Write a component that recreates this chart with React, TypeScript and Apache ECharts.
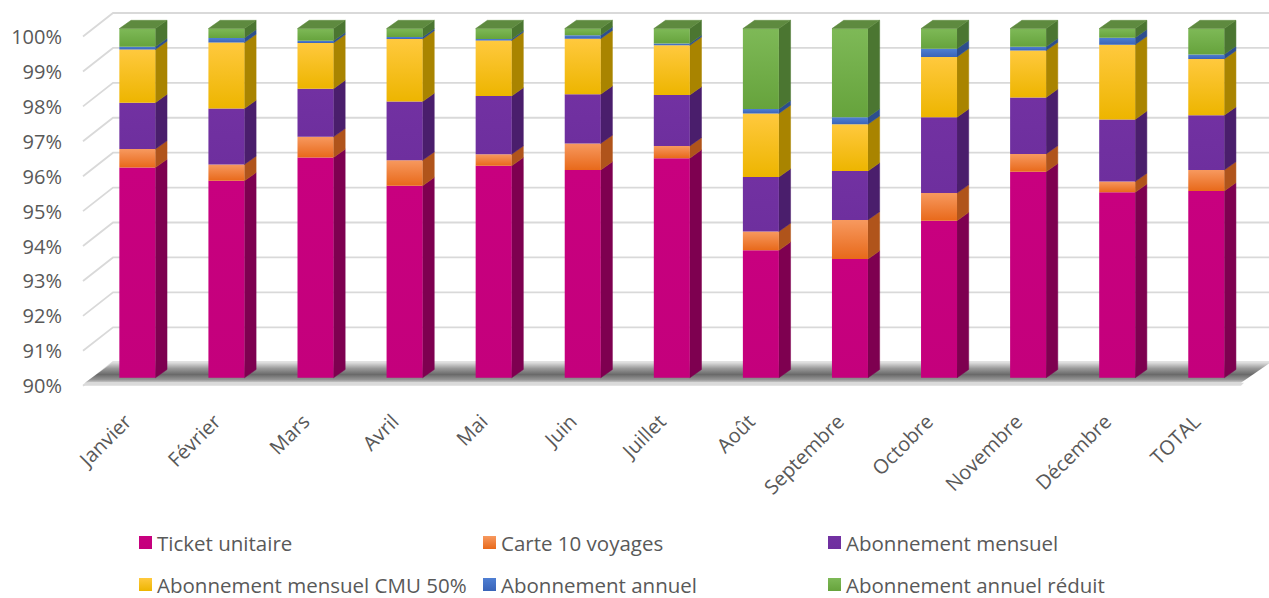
import React, { useEffect, useRef } from "react";
import * as echarts from "echarts";

// ---------- data ----------
const categories = [
  "Janvier", "Février", "Mars", "Avril", "Mai", "Juin", "Juillet",
  "Août", "Septembre", "Octobre", "Novembre", "Décembre", "TOTAL",
];
const seriesNames = [
  "Ticket unitaire",
  "Carte 10 voyages",
  "Abonnement mensuel",
  "Abonnement mensuel CMU 50%",
  "Abonnement annuel",
  "Abonnement annuel réduit",
];
const ticketUnitaire = [96.02, 95.64, 96.31, 95.5, 96.07, 95.95, 96.29, 93.65, 93.4, 94.5, 95.9, 95.31, 95.35];
const carte10Voyages = [0.53, 0.47, 0.59, 0.73, 0.33, 0.76, 0.35, 0.54, 1.12, 0.79, 0.51, 0.31, 0.6];
const abonnementMensuel = [1.33, 1.6, 1.38, 1.68, 1.67, 1.41, 1.46, 1.56, 1.4, 2.17, 1.62, 1.78, 1.57];
const abonnementCMU = [1.52, 1.89, 1.31, 1.79, 1.59, 1.59, 1.42, 1.82, 1.34, 1.73, 1.34, 2.14, 1.61];
const abonnementAnnuel = [0.08, 0.13, 0.06, 0.06, 0.04, 0.1, 0.05, 0.13, 0.2, 0.23, 0.11, 0.2, 0.13];
const abonnementAnnuelReduit = [0.52, 0.27, 0.35, 0.24, 0.3, 0.19, 0.43, 2.3, 2.54, 0.58, 0.52, 0.26, 0.74];
const yTickValues = [90, 91, 92, 93, 94, 95, 96, 97, 98, 99, 100];

const seriesValues = [
  ticketUnitaire,
  carte10Voyages,
  abonnementMensuel,
  abonnementCMU,
  abonnementAnnuel,
  abonnementAnnuelReduit,
];

// ---------- styles ----------
const Y_MIN = 90;
const Y_MAX = 100;
const FONT = "'Open Sans', 'Noto Sans', sans-serif";
const TEXT_COLOR = "#595959";
const WALL_DX = 30;
const WALL_DY = -23.5;
const BAR_DX = 9.8;
const BAR_DY = -7.9;
const DEPTH_X = 11.7;
const DEPTH_Y = -8.3;
const BAR_FRACTION = 0.404;

const faces = [
  { front: ["#C8007F", "#C4007C"], side: "#7E0050", top: "#A0006A" },
  { front: ["#F7995F", "#E8691A"], side: "#B0541B", top: "#D46A28" },
  { front: ["#7231A2", "#6E2F9E"], side: "#4A1E6C", top: "#5E2888" },
  { front: ["#FFC93E", "#EDB500"], side: "#A98400", top: "#C99C10" },
  { front: ["#4F7FD3", "#3A64B8"], side: "#2D4E8E", top: "#3A60A8" },
  { front: ["#7EB957", "#66A33C"], side: "#4B7631", top: "#5E8A3F" },
];

const vGrad = (c: string[]) => ({
  type: "linear",
  x: 0,
  y: 0,
  x2: 0,
  y2: 1,
  colorStops: [
    { offset: 0, color: c[0] },
    { offset: 1, color: c[1] },
  ],
});

const legendPos = [
  { left: 139, top: 532 },
  { left: 483, top: 532 },
  { left: 828, top: 532 },
  { left: 139, top: 574 },
  { left: 483, top: 574 },
  { left: 828, top: 574 },
];

export default function App() {
  const ref = useRef<HTMLDivElement>(null);

  useEffect(() => {
    if (!ref.current) return;
    const chart = echarts.init(ref.current, undefined, { renderer: "svg" });

    // cumulative stacks
    const cum = categories.map(() => 0);
    const barSeries = seriesValues.map((vals, k) => {
      const data = vals.map((v, i) => {
        const start = cum[i];
        cum[i] += v;
        return [i, start, cum[i]];
      });
      const isTop = k === seriesValues.length - 1;
      const face = faces[k];
      return {
        type: "custom",
        name: seriesNames[k],
        itemStyle: { color: vGrad(face.front) },
        encode: { x: 0, y: [1, 2] },
        data,
        z: 3,
        renderItem: (params: any, api: any) => {
          const i = api.value(0);
          const s = Math.max(api.value(1), Y_MIN);
          const e = Math.min(api.value(2), Y_MAX);
          const pT = api.coord([i, e]);
          const pB = api.coord([i, s]);
          const bw = api.size([1, 0])[0] * BAR_FRACTION;
          const x0 = pT[0] - bw / 2 + BAR_DX;
          const x1 = x0 + bw;
          const yT = pT[1] + BAR_DY;
          const yB = pB[1] + BAR_DY;
          const children: any[] = [
            {
              type: "polygon",
              shape: {
                points: [
                  [x1, yT],
                  [x1 + DEPTH_X, yT + DEPTH_Y],
                  [x1 + DEPTH_X, yB + DEPTH_Y],
                  [x1, yB],
                ],
              },
              style: { fill: face.side, stroke: face.side, lineWidth: 0.5 },
            },
            {
              type: "rect",
              shape: { x: x0, y: yT, width: bw, height: yB - yT },
              style: { fill: vGrad(face.front) },
            },
          ];
          if (isTop) {
            children.push({
              type: "polygon",
              shape: {
                points: [
                  [x0, yT],
                  [x1, yT],
                  [x1 + DEPTH_X, yT + DEPTH_Y],
                  [x0 + DEPTH_X, yT + DEPTH_Y],
                ],
              },
              style: { fill: face.top, stroke: face.top, lineWidth: 0.5 },
            });
          }
          return { type: "group", children };
        },
      };
    });

    const decorSeries = {
      type: "custom",
      name: "decor",
      silent: true,
      z: 1,
      data: [[0, Y_MIN]],
      encode: { x: 0, y: 1 },
      renderItem: (params: any, api: any) => {
        const cs = params.coordSys;
        const x0 = cs.x;
        const x1 = cs.x + cs.width;
        const children: any[] = [];
        yTickValues.forEach((t) => {
          const y = api.coord([0, t])[1];
          children.push({
            type: "polyline",
            shape: {
              points: [
                [x0, y],
                [x0 + WALL_DX, y + WALL_DY],
                [x1 + WALL_DX, y + WALL_DY],
              ],
            },
            style: { stroke: "#D9D9D9", lineWidth: 1.8, fill: null },
          });
        });
        const yb = api.coord([0, Y_MIN])[1];
        // floor with shadow
        children.push({
          type: "polygon",
          shape: {
            points: [
              [x0 + 2, yb - 3],
              [x0 + WALL_DX, yb + WALL_DY],
              [x1 + WALL_DX, yb + WALL_DY],
              [x1, yb - 3],
            ],
          },
          style: {
            fill: {
              type: "linear",
              x: 0,
              y: 0,
              x2: 0,
              y2: 1,
              colorStops: [
                { offset: 0, color: "#e2e2e2" },
                { offset: 0.3, color: "#9a9a9a" },
                { offset: 0.6, color: "#6a6a6a" },
                { offset: 0.85, color: "#959595" },
                { offset: 1, color: "#cfcfcf" },
              ],
            },
          },
        });
        children.push({
          type: "polygon",
          shape: {
            points: [
              [x0, yb],
              [x0 + 3, yb - 3],
              [x1 + 3, yb - 3],
              [x1, yb],
            ],
          },
          style: { fill: "#DADADA" },
        });
        return { type: "group", children };
      },
    };

    const legends = seriesNames.map((n, k) => ({
      show: true,
      data: [n],
      left: legendPos[k].left,
      top: legendPos[k].top,
      padding: 0,
      icon: "rect",
      itemWidth: 13,
      itemHeight: 13,
      selectedMode: false,
      textStyle: { color: TEXT_COLOR, fontSize: 20.5, fontFamily: FONT, lineHeight: 20 },
    }));

    chart.setOption({
      animation: false,
      backgroundColor: "#ffffff",
      legend: legends,
      grid: { left: 83, top: 36.5, width: 1158, height: 349.2, containLabel: false },
      xAxis: {
        type: "category",
        data: categories,
        boundaryGap: true,
        axisLine: { show: false },
        axisTick: { show: false },
        splitLine: { show: false },
        axisLabel: {
          interval: 0,
          rotate: 45,
          margin: 32,
          color: TEXT_COLOR,
          fontSize: 20,
          fontFamily: FONT,
        },
      },
      yAxis: {
        type: "value",
        min: Y_MIN,
        max: Y_MAX,
        interval: 1,
        axisLine: { show: false },
        axisTick: { show: false },
        splitLine: { show: false },
        axisLabel: {
          margin: 21,
          color: TEXT_COLOR,
          fontSize: 20,
          fontFamily: FONT,
          formatter: "{value}%",
        },
      },
      series: [decorSeries, ...barSeries],
    });

    return () => chart.dispose();
  }, []);

  return (
    <div
      ref={ref}
      style={{ position: "absolute", left: 0, top: 0, width: 1269, height: 598, background: "#fff" }}
    />
  );
}
